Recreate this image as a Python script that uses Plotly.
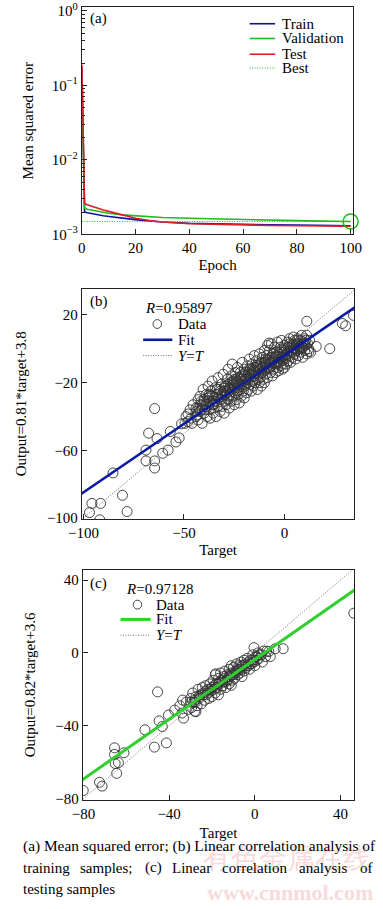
import plotly.graph_objects as go

W, H = 383, 909
FONT = "Liberation Serif"

# ---------------- data: panel (a) ----------------
epochs = [0, 1, 2, 4, 6, 8, 10, 15, 20, 25, 30, 40, 50, 60, 70, 80, 90, 100]
train_mse = [0.17, 0.0020, 0.00195, 0.00188, 0.00182, 0.00178, 0.00174, 0.00165, 0.00158,
             0.00152, 0.00147, 0.00141, 0.00138, 0.00136, 0.00135, 0.00134, 0.00132, 0.00131]
val_mse = [0.18, 0.00225, 0.00218, 0.00210, 0.00203, 0.00197, 0.00192, 0.00183, 0.00177,
           0.00172, 0.00169, 0.00165, 0.00161, 0.00158, 0.00155, 0.00153, 0.00151, 0.00149]
test_mse = [0.19, 0.0026, 0.00250, 0.00236, 0.00224, 0.00213, 0.00204, 0.00183, 0.00165,
            0.00154, 0.00147, 0.00139, 0.00136, 0.00134, 0.00132, 0.00131, 0.00130, 0.00129]
best_epoch = 100
best_mse = 0.00149
epoch_ticks = [0, 20, 40, 60, 80, 100]
mse_ticks = [1e-3, 1e-2, 1e-1, 1]
mse_ticktext = ["10<sup>−3</sup>", "10<sup>−2</sup>", "10<sup>−1</sup>", "10<sup>0</sup>"]

# ---------------- data: panel (b) training samples ----------------
b_points = [
    # outliers
    (34.3, 19.8), (28.8, 15.0), (30.4, 13.6), (11.1, 16.3), (22.5, 0.1), (15.8, 1.4), (12.2, -1.5), (-7.7, 3.4),
    (-64.6, -35.3), (-67.6, -49.8), (-63.4, -53.0), (-56.8, -48.8), (-68.9, -59.8), (-68.9, -66.2),
    (-64.6, -66.2), (-64.6, -70.4), (-60.6, -61.7), (-57.9, -59.8), (-54.0, -55.0), (-52.4, -52.6),
    (-51.2, -44.3), (-85.3, -73.3), (-80.6, -86.5), (-78.3, -96.1), (-95.8, -91.3), (-91.5, -91.3),
    (-97.0, -96.7), (-91.9, -101.0),
    # main cloud
    (-49, -40), (-49.5, -44), (-48, -43), (-48, -38.5), (-47, -36), (-46.5, -41), (-46, -44), (-45.5, -33),
    (-44, -35), (-44, -40), (-43, -30), (-43, -42), (-42, -37), (-42, -28), (-41, -33), (-41, -44),
    (-40.5, -24), (-40, -38), (-40, -30),
    (-39, -34), (-39, -27), (-38.5, -40), (-38, -31), (-38, -22), (-37.5, -36), (-37, -28), (-37, -41),
    (-36.5, -25), (-36, -33), (-36, -19), (-35.5, -38), (-35, -29), (-35, -35), (-34.5, -23), (-34, -31),
    (-34, -40), (-33.5, -27), (-33, -17), (-33, -34), (-32.5, -24), (-32, -30), (-32, -37), (-31.5, -21),
    (-31, -28), (-31, -34), (-30.5, -15), (-30, -25), (-30, -31), (-30, -38),
    (-29.5, -27), (-29, -22), (-29, -33), (-28.5, -18), (-28.5, -26), (-28, -30), (-28, -12), (-27.5, -23),
    (-27.5, -35), (-27, -20), (-27, -27), (-26.5, -16), (-26.5, -31), (-26, -24), (-26, -9), (-25.5, -21),
    (-25.5, -28), (-25, -18), (-25, -33), (-25, -23), (-24.5, -14), (-24.5, -26), (-24, -20), (-24, -30),
    (-23.5, -11), (-23.5, -23), (-23, -17), (-23, -27), (-22.5, -21), (-22.5, -32), (-22, -14), (-22, -24),
    (-21.5, -18), (-21.5, -28), (-21, -8), (-21, -21), (-20.5, -25), (-20.5, -15), (-20, -19), (-20, -29),
    (-20, -12),
    (-19.5, -22), (-19.5, -14), (-19, -18), (-19, -26), (-18.5, -10), (-18.5, -20), (-18, -15), (-18, -24),
    (-17.5, -6), (-17.5, -17), (-17, -21), (-17, -12), (-16.5, -25), (-16.5, -15), (-16, -9), (-16, -19),
    (-15.5, -13), (-15.5, -22), (-15, -4), (-15, -16), (-14.5, -11), (-14.5, -20), (-14, -14), (-14, -7),
    (-13.5, -18), (-13.5, -24), (-13, -10), (-13, -15), (-12.5, -3), (-12.5, -20), (-12, -12), (-12, -17),
    (-11.5, -8), (-11.5, -22), (-11, -14), (-11, -5), (-10.5, -18), (-10.5, -10), (-10, -13), (-10, -1),
    (-10, -20),
    (-9.5, -8), (-9.5, -15), (-9, -4), (-9, -11), (-8.5, 2), (-8.5, -17), (-8, -7), (-8, -12), (-7.5, -1),
    (-7.5, -9), (-7, -14), (-7, -5), (-6.5, -10), (-6.5, 3), (-6, -7), (-6, -16), (-5.5, -3), (-5.5, -12),
    (-5, -8), (-5, 1), (-4.5, -5), (-4.5, -14), (-4, -9), (-4, -2), (-3.5, 4), (-3.5, -11), (-3, -6),
    (-3, -13), (-2.5, -3), (-2.5, -8), (-2, 1), (-2, -10), (-1.5, -5), (-1.5, 5), (-1, -7), (-1, -12),
    (-0.5, -2), (-0.5, -9), (0, -4), (0, 2), (0, -11),
    (0.5, -6), (1, 0), (1, -9), (1.5, 4), (1.5, -3), (2, -7), (2, -1), (2.5, 6), (2.5, -4), (3, 1), (3, -8),
    (3.5, -2), (4, 3), (4, -5), (4.5, 7), (4.5, 0), (5, -3), (5, 5), (5.5, -6), (6, 2), (6, -1), (6.5, 6),
    (7, -4), (7, 3), (7.5, 0), (8, 5), (8, -2), (8.5, 8), (9, 1), (9, -5), (9.5, 4), (10, -1), (10, 6),
    (10.5, 2), (11, -3), (11, 8), (11.5, 3), (12, 0), (12.5, 5), (13, -2),
    # dense core
    (-44, -37), (-43, -35), (-42, -33), (-41, -36), (-40, -31), (-39, -33), (-38, -29), (-37, -32),
    (-36, -28), (-35, -31), (-34, -27), (-33, -29), (-32, -25), (-31, -27), (-30, -23), (-29, -25),
    (-28, -21), (-27, -24), (-26, -20), (-25, -22), (-24, -18), (-23, -21), (-22, -17), (-21, -19),
    (-20, -16), (-19, -18), (-18, -14), (-17, -16), (-16, -12), (-15, -14), (-14, -11), (-13, -13),
    (-12, -9), (-11, -11), (-10, -8), (-9, -9), (-8, -6), (-7, -8), (-6, -5), (-5, -6), (-4, -4), (-3, -5),
    (-2, -2), (-1, -4), (0, -1), (1, -3), (2, 1), (3, -1), (4, 2), (5, 0), (6, 3), (7, 1), (8, 2), (9, 3),
    (10, 3),
    (-43.5, -39), (-41.5, -31), (-39.5, -36), (-37.5, -27), (-35.5, -33), (-33.5, -24), (-31.5, -30),
    (-29.5, -22), (-27.5, -28), (-25.5, -19), (-23.5, -25), (-21.5, -16), (-19.5, -21), (-17.5, -13),
    (-15.5, -18), (-13.5, -10), (-11.5, -14), (-9.5, -6), (-7.5, -11), (-5.5, -3), (-3.5, -8), (-1.5, 0),
    (0.5, -5), (2.5, 3), (4.5, -2), (6.5, 5), (8.5, 0), (10.5, 5),
]
b_target = [p[0] for p in b_points]
b_output = [p[1] for p in b_points]
b_fit_slope, b_fit_intercept = 0.81, -3.8
b_line_x = [-101, 35]
b_R = "0.95897"
b_xticks = [-100, -50, 0]
b_yticks = [-100, -60, -20, 20]

# ---------------- data: panel (c) testing samples ----------------
c_points = [
    (46.2, 21.8), (-45.4, -21.4), (-51.3, -42.2), (-44.7, -37.3), (-46.9, -51.7), (-41.3, -49.4),
    (-43.2, -40.4), (-40.3, -34.1), (-65.5, -52.1), (-65.5, -55.7), (-61.1, -54.8), (-65.2, -60.7),
    (-63.7, -60.2), (-64.5, -66.1), (-72.5, -71.0), (-71.3, -73.1), (-80.1, -75.5), (-33.7, -25.9),
    (-33.3, -35.8), (-37.4, -31.4), (-27.8, -27.2), (-27.5, -32.3), (-0.4, 2.9), (9.5, 2.3), (13.2, 2.3),
    (7.2, -2.0), (6.5, 0.7), (-11.0, -7.0), (-11.0, -17.8), (-18.3, -11.5),
    (-35, -29), (-34, -33), (-32, -27), (-31, -31), (-30, -25), (-29.5, -30), (-29, -22), (-28.5, -27),
    (-28, -32), (-27.5, -24), (-27, -29), (-26.5, -20), (-26, -25), (-25.5, -23), (-25, -28), (-24.5, -19),
    (-24, -22), (-23.5, -26), (-23, -18), (-22.5, -23), (-22, -20), (-21.5, -25), (-21, -17), (-20.5, -21),
    (-20, -19), (-20, -24), (-19.5, -15), (-19, -20), (-18.5, -12), (-18.5, -22), (-18, -17), (-17.5, -19),
    (-17, -14), (-17, -23), (-16.5, -16), (-16, -11), (-16, -20), (-15.5, -15), (-15, -18), (-14.5, -13),
    (-14, -16), (-14, -10), (-13.5, -19), (-13, -12), (-12.5, -15), (-12, -9), (-12, -17), (-11.5, -13),
    (-11, -11), (-10.5, -15), (-10, -8), (-10, -12), (-9.5, -14), (-9, -10), (-8.5, -6), (-8, -12),
    (-8, -9), (-7.5, -7), (-7, -11), (-6.5, -5), (-6, -9), (-6, -13), (-5.5, -7), (-5, -4), (-5, -10),
    (-4.5, -6), (-4, -8), (-3.5, -3), (-3, -7), (-2.5, -9), (-2, -4), (-1.5, -6), (-1, -1), (-0.5, -5),
    (0, -7), (0.5, -2), (1, -4), (1.5, 0), (2, -3), (3, -1), (3.5, -5), (4, 1), (5, -2), (5.5, 1),
    # dense core
    (-30, -27), (-28, -26), (-26, -24), (-24, -23), (-23, -21), (-22, -22), (-21, -20), (-19, -18),
    (-18, -19), (-17, -17), (-15, -16), (-14, -14), (-13, -15), (-12, -13), (-11, -12), (-9, -11),
    (-8, -10), (-7, -9), (-6, -7), (-4, -7), (-3, -5), (-2, -6), (-1, -4), (1, -2), (2, -1),
]
c_target = [p[0] for p in c_points]
c_output = [p[1] for p in c_points]
c_fit_slope, c_fit_intercept = 0.82, -3.6
c_line_x = [-81, 47]
c_R = "0.97128"
c_xticks = [-80, -40, 0, 40]
c_yticks = [-80, -40, 0, 40]

caption_line1 = "(a) Mean squared error; (b) Linear correlation analysis of"
caption_line2 = ["training", "samples;", "(c)", "Linear", "correlation", "analysis", "of"]
caption_line3 = "testing samples"

# ---------------- colours ----------------
C_TRAIN = "#1010a0"
C_VAL = "#22b822"
C_TEST = "#dd1f1f"
C_FITB = "#0a1aa5"
C_FITC = "#2fcf2f"
C_DATA = "#333333"
C_YT = "#505050"
DOT = "1px,1.5px"


def px(x):
    return x / W


def py(y):
    return 1 - y / H


fig = go.Figure()

# panel (a)
fig.add_trace(go.Scatter(x=epochs, y=train_mse, mode="lines", line=dict(color=C_TRAIN, width=1.6),
                         xaxis="x", yaxis="y", showlegend=False))
fig.add_trace(go.Scatter(x=epochs, y=val_mse, mode="lines", line=dict(color=C_VAL, width=1.6),
                         xaxis="x", yaxis="y", showlegend=False))
fig.add_trace(go.Scatter(x=epochs, y=test_mse, mode="lines", line=dict(color=C_TEST, width=1.6),
                         xaxis="x", yaxis="y", showlegend=False))
fig.add_trace(go.Scatter(x=[epochs[0], epochs[-1]], y=[best_mse, best_mse], mode="lines",
                         line=dict(color=C_VAL, width=1, dash=DOT), xaxis="x", yaxis="y", showlegend=False))
fig.add_trace(go.Scatter(x=[best_epoch], y=[best_mse], mode="markers",
                         marker=dict(symbol="circle-open", size=15, color=C_VAL, line=dict(width=1.5)),
                         xaxis="x", yaxis="y", showlegend=False, cliponaxis=False))

# panel (b)
fig.add_trace(go.Scatter(x=b_target, y=b_output, mode="markers",
                         marker=dict(symbol="circle-open", size=10, color=C_DATA, line=dict(width=0.9)),
                         xaxis="x2", yaxis="y2", showlegend=False))
fig.add_trace(go.Scatter(x=b_line_x, y=[b_fit_slope * v + b_fit_intercept for v in b_line_x], mode="lines",
                         line=dict(color=C_FITB, width=2.6), xaxis="x2", yaxis="y2", showlegend=False))
fig.add_trace(go.Scatter(x=b_line_x, y=b_line_x, mode="lines", line=dict(color=C_YT, width=0.8, dash=DOT),
                         xaxis="x2", yaxis="y2", showlegend=False))

# panel (c)
fig.add_trace(go.Scatter(x=c_target, y=c_output, mode="markers",
                         marker=dict(symbol="circle-open", size=10, color=C_DATA, line=dict(width=0.9)),
                         xaxis="x3", yaxis="y3", showlegend=False))
fig.add_trace(go.Scatter(x=c_line_x, y=[c_fit_slope * v + c_fit_intercept for v in c_line_x], mode="lines",
                         line=dict(color=C_FITC, width=3), xaxis="x3", yaxis="y3", showlegend=False))
fig.add_trace(go.Scatter(x=c_line_x, y=c_line_x, mode="lines", line=dict(color=C_YT, width=0.8, dash=DOT),
                         xaxis="x3", yaxis="y3", showlegend=False))

axis_common = dict(showline=True, mirror=True, linecolor="#222", linewidth=1, ticks="inside", ticklen=5,
                   tickcolor="#222", showgrid=False, zeroline=False,
                   tickfont=dict(family=FONT, size=15, color="black"),
                   title_font=dict(family=FONT, size=15, color="black"))

fig.update_layout(
    width=W, height=H, margin=dict(l=0, r=0, t=0, b=0),
    paper_bgcolor="white", plot_bgcolor="white",
    font=dict(family=FONT, size=15, color="black"),
    xaxis=dict(axis_common, domain=[px(72), px(360)], anchor="y", range=[0, 101], tickvals=epoch_ticks,
               title=dict(text="Epoch", standoff=4)),
    yaxis=dict(axis_common, domain=[py(232), py(1)], anchor="x", type="log", range=[-3, 0.053],
               tickvals=mse_ticks, ticktext=mse_ticktext, ticklabeloverflow="allow",
               minor=dict(ticks="inside", ticklen=3, tickcolor="#222",
                          tickvals=[m * 10 ** e for e in (-3, -2, -1) for m in range(2, 10)]),
               title=dict(text="Mean squared error", standoff=14)),
    xaxis2=dict(axis_common, domain=[px(72), px(361)], anchor="y2", range=[-100.8, 34.7], tickvals=b_xticks,
                title=dict(text="Target", standoff=4)),
    yaxis2=dict(axis_common, domain=[py(521), py(287)], anchor="x2", range=[-100.5, 35.6], tickvals=b_yticks,
                title=dict(text="Output=0.81*target+3.8", standoff=16)),
    xaxis3=dict(axis_common, domain=[px(73), px(361)], anchor="y3", range=[-80.3, 46.4], tickvals=c_xticks,
                title=dict(text="Target", standoff=6)),
    yaxis3=dict(axis_common, domain=[py(806), py(573)], anchor="x3", range=[-80.5, 45.4], tickvals=c_yticks,
                title=dict(text="Output=0.82*target+3.6", standoff=16)),
)

ann = []
shapes = []


def text(x, y, s, size=15, anchor="left", color="black", **kw):
    ann.append(dict(x=px(x), y=py(y), xref="paper", yref="paper", text=s, showarrow=False,
                    xanchor=anchor, yanchor="middle", font=dict(family=FONT, size=size, color=color), **kw))


def hline(x0, x1, y, color, width, dash="solid"):
    shapes.append(dict(type="line", xref="paper", yref="paper", x0=px(x0), x1=px(x1), y0=py(y), y1=py(y),
                       line=dict(color=color, width=width, dash=dash)))


def circ(cx, cy, r, color, width=0.9):
    shapes.append(dict(type="circle", xref="paper", yref="paper", x0=px(cx - r), x1=px(cx + r),
                       y0=py(cy + r), y1=py(cy - r), line=dict(color=color, width=width)))


# panel labels
text(79, 13, "(a)")
text(79, 300, "(b)")
text(79, 587, "(c)")

# legend (a)
for yy, col, name, dash in [(18, C_TRAIN, "Train", "solid"), (33, C_VAL, "Validation", "solid"),
                            (49, C_TEST, "Test", "solid"), (63, C_VAL, "Best", DOT)]:
    hline(250, 277, yy, col, 1.6 if dash == "solid" else 1, dash)
    text(282, yy, name)

# legend (b)
text(137, 307, "<i>R</i>=" + b_R)
circ(152, 323, 4.5, C_DATA)
text(172, 323, "Data")
hline(137, 168, 339, C_FITB, 2.6)
text(172, 339, "Fit")
hline(137, 168, 355, C_YT, 0.8, DOT)
text(172, 355, "<i>Y</i>=<i>T</i>")

# legend (c)
text(117, 592, "<i>R</i>=" + c_R)
circ(131, 608, 4.5, C_DATA)
text(149, 608, "Data")
hline(113, 145, 623, C_FITC, 3)
text(149, 623, "Fit")
hline(113, 145, 639, C_YT, 0.8, DOT)
text(149, 639, "<i>Y</i>=<i>T</i>")

# watermark
text(290, 866, "有色金属在线", size=28, anchor="center", color="#f7dada")
text(293, 900, "<b>www.cnnmol.com</b>", size=22, anchor="center", color="#f7dada")

# caption
text(7, 853, caption_line1, size=15.4)
for word, xw in zip(caption_line2, [7, 68, 137, 166, 219, 300, 365]):
    text(xw, 875, word)
text(7, 897, caption_line3)

fig.update_layout(annotations=ann, shapes=shapes)
fig.write_html("out.html", config={"displayModeBar": False},
               post_script="document.body.style.margin='0';")
